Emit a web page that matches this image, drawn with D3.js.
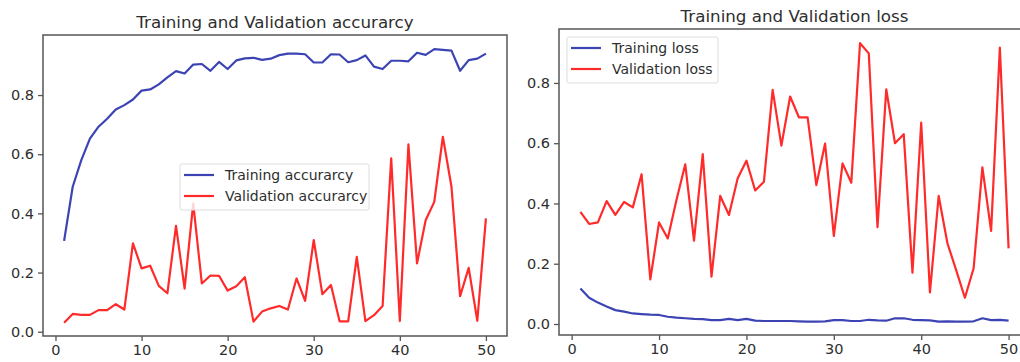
<!DOCTYPE html>
<html>
<head>
<meta charset="utf-8">
<script src="https://cdn.jsdelivr.net/npm/d3@7"></script>
<style>
  body { margin: 0; background: #fff; }
  svg { display: block; font-family: "DejaVu Sans", sans-serif; }
</style>
</head>
<body>
<div id="chart"></div>
<script>
// epochs 1..50
const epochs = d3.range(1, 51);

const trainAcc = [0.307, 0.49, 0.58, 0.653, 0.693, 0.72, 0.751, 0.766, 0.785, 0.815,
  0.819, 0.836, 0.86, 0.881, 0.873, 0.903, 0.905, 0.882, 0.912, 0.888,
  0.917, 0.924, 0.926, 0.919, 0.923, 0.935, 0.94, 0.94, 0.938, 0.91,
  0.91, 0.938, 0.937, 0.911, 0.918, 0.934, 0.896, 0.888, 0.916, 0.916,
  0.914, 0.943, 0.936, 0.955, 0.953, 0.95, 0.882, 0.918, 0.923, 0.94];

const valAcc = [0.03, 0.06, 0.057, 0.057, 0.073, 0.073, 0.093, 0.075, 0.299, 0.214,
  0.223, 0.155, 0.13, 0.358, 0.146, 0.434, 0.163, 0.19, 0.189, 0.139,
  0.154, 0.184, 0.034, 0.068, 0.079, 0.087, 0.075, 0.18, 0.104, 0.31,
  0.127, 0.158, 0.035, 0.035, 0.253, 0.036, 0.056, 0.087, 0.586, 0.036,
  0.633, 0.231, 0.377, 0.439, 0.659, 0.49, 0.12, 0.216, 0.037, 0.383];

const trainLoss = [0.118, 0.087, 0.071, 0.058, 0.046, 0.041, 0.035, 0.033, 0.031, 0.03,
  0.024, 0.021, 0.019, 0.017, 0.016, 0.013, 0.013, 0.017, 0.013, 0.017,
  0.011, 0.01, 0.01, 0.01, 0.01, 0.009, 0.008, 0.008, 0.009, 0.013,
  0.013, 0.01, 0.01, 0.014, 0.012, 0.011, 0.019, 0.019, 0.014, 0.013,
  0.012, 0.008, 0.009, 0.008, 0.008, 0.009, 0.019, 0.013, 0.014, 0.011];

const valLoss = [0.372, 0.332, 0.337, 0.408, 0.362, 0.405, 0.387, 0.497, 0.148, 0.337,
  0.284, 0.412, 0.53, 0.277, 0.564, 0.157, 0.425, 0.362, 0.484, 0.542,
  0.443, 0.472, 0.777, 0.592, 0.755, 0.686, 0.686, 0.461, 0.599, 0.292,
  0.533, 0.469, 0.932, 0.898, 0.321, 0.779, 0.6, 0.63, 0.17, 0.668,
  0.105, 0.425, 0.268, 0.179, 0.087, 0.185, 0.52, 0.309, 0.917, 0.251];

const xTicks = [0, 10, 20, 30, 40, 50];
const yTicks = [0.0, 0.2, 0.4, 0.6, 0.8];

const width = 1020, height = 362;
const blue = "#3c44b4", red = "#ff2b2b", ink = "#2e2e2e";

const svg = d3.select("#chart").append("svg")
  .attr("width", width)
  .attr("height", height)
  .attr("viewBox", [0, 0, width, height]);

// one matplotlib-like subplot
function panel(box, title, series, legend) {
  const g = svg.append("g");

  const x = d3.scaleLinear().domain([-1.45, 52.45]).range([box.left, box.right]);
  const y = d3.scaleLinear().domain(box.ydom).range([box.bottom, box.top]);

  const line = d3.line()
    .x((d, i) => x(epochs[i]))
    .y(d => y(d));

  const clipId = "clip" + box.left;
  g.append("clipPath").attr("id", clipId)
    .append("rect")
    .attr("x", box.left).attr("y", box.top)
    .attr("width", box.right - box.left).attr("height", box.bottom - box.top);

  series.forEach(s => {
    g.append("path")
      .attr("clip-path", `url(#${clipId})`)
      .attr("fill", "none")
      .attr("stroke", s.color)
      .attr("stroke-width", 2.2)
      .attr("stroke-linejoin", "round")
      .attr("d", line(s.values));
  });

  // axes
  g.append("g")
    .attr("transform", `translate(0,${box.bottom})`)
    .call(d3.axisBottom(x).tickValues(xTicks).tickSize(5).tickPadding(4).tickFormat(d3.format("d")))
    .call(a => a.select(".domain").remove())
    .call(a => a.selectAll("line").attr("stroke", "#555").attr("stroke-width", 1.3))
    .call(a => a.selectAll("text").attr("fill", ink).attr("font-size", 14.5).attr("font-family", "DejaVu Sans"));

  g.append("g")
    .attr("transform", `translate(${box.left},0)`)
    .call(d3.axisLeft(y).tickValues(yTicks).tickSize(5).tickPadding(4).tickFormat(d3.format(".1f")))
    .call(a => a.select(".domain").remove())
    .call(a => a.selectAll("line").attr("stroke", "#555").attr("stroke-width", 1.3))
    .call(a => a.selectAll("text").attr("fill", ink).attr("font-size", 14.5).attr("font-family", "DejaVu Sans"));

  g.append("rect")
    .attr("x", box.left).attr("y", box.top)
    .attr("width", box.right - box.left).attr("height", box.bottom - box.top)
    .attr("fill", "none")
    .attr("stroke", "#555")
    .attr("stroke-width", 1.5);

  g.append("text")
    .attr("x", (box.left + box.right) / 2)
    .attr("y", box.top - 7)
    .attr("text-anchor", "middle")
    .attr("fill", ink)
    .attr("font-size", 16.7)
    .text(title);

  // legend
  const lg = g.append("g").attr("transform", `translate(${legend.x},${legend.y})`);
  lg.append("rect")
    .attr("width", legend.w).attr("height", 46)
    .attr("rx", 2)
    .attr("fill", "white")
    .attr("fill-opacity", 0.8)
    .attr("stroke", "#ddd");
  series.forEach((s, i) => {
    const yy = 11 + i * 21;
    lg.append("line")
      .attr("x1", 4).attr("x2", 34)
      .attr("y1", yy).attr("y2", yy)
      .attr("stroke", s.color).attr("stroke-width", 2.2);
    lg.append("text")
      .attr("x", 45).attr("y", yy)
      .attr("dy", "0.35em")
      .attr("fill", ink)
      .attr("font-size", 14)
      .text(s.name);
  });
}

panel({ left: 43, right: 507, top: 35, bottom: 336, ydom: [-0.0145, 1.003] },
  "Training and Validation accurarcy",
  [{ name: "Training accurarcy", values: trainAcc, color: blue },
   { name: "Validation accurarcy", values: valAcc, color: red }],
  { x: 180, y: 164, w: 189 });

panel({ left: 559, right: 1030, top: 29, bottom: 335, ydom: [-0.0365, 0.979] },
  "Training and Validation loss",
  [{ name: "Training loss", values: trainLoss, color: blue },
   { name: "Validation loss", values: valLoss, color: red }],
  { x: 567, y: 37, w: 151 });
</script>
</body>
</html>
